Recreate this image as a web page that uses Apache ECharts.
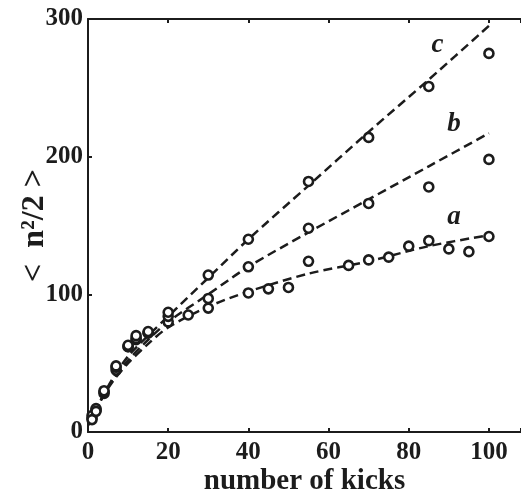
<!DOCTYPE html>
<html>
<head>
<meta charset="utf-8">
<script src="https://cdn.jsdelivr.net/npm/echarts@6/dist/echarts.min.js"></script>
<style>
  html, body { margin: 0; padding: 0; background: #fff; }
  #main { width: 521px; height: 493px; }
</style>
</head>
<body>
<div id="main"></div>
<script>
// measured points (open circles)
var kicksA = [1, 2, 4, 7, 10, 12, 15, 20, 25, 30, 40, 45, 50, 55, 65, 70, 75, 80, 85, 90, 95, 100];
var valsA = [10, 16, 28, 45, 62, 67, 72, 80, 85, 90, 101, 104, 105, 124, 121, 125, 127, 135, 139, 133, 131, 142];
var kicksBC = [1, 2, 4, 7, 10, 12, 15, 20, 30, 40, 55, 70, 85, 100];
var valsB = [12, 17, 29, 47, 62, 68, 72, 84, 97, 120, 148, 166, 178, 198];
var valsC = [9, 15, 30, 48, 63, 70, 73, 87, 114, 140, 182, 214, 251, 275];

// dashed curves
var fitX = [0, 3, 6, 10, 15, 20, 30, 40, 55, 70, 85, 100];
var fitA = [5, 22, 36, 50, 64, 76, 91, 102, 115, 124, 135, 143];
var fitB = [5, 22, 37, 52, 67, 80, 100, 120, 145, 169, 193, 217];
var fitC = [5, 22, 38, 55, 70, 84, 112, 140, 179, 218, 256, 295];

// curve letters
var letterNames = ['a', 'b', 'c'];
var letterX = [91.3, 91.3, 87.2];
var letterY = [156, 224, 281];

var xTicks = [0, 20, 40, 60, 80, 100];
var yTicks = [0, 100, 200, 300];

function pairs(xs, ys) {
	return xs.map(function (x, i) { return [x, ys[i]]; });
}

var ink = '#1c1c1c';
var serif = 'Liberation Serif';

var chart = echarts.init(document.getElementById('main'));

var fitStyle = { color: ink, width: 2.5, type: [9, 5] };

function fitSeries(ys) {
	return {
		type: 'line',
		data: pairs(fitX, ys),
		smooth: 0.3,
		showSymbol: false,
		lineStyle: fitStyle,
		silent: true,
		z: 2
	};
}

function dotSeries(xs, ys) {
	return {
		type: 'scatter',
		data: pairs(xs, ys),
		symbol: 'circle',
		symbolSize: 9,
		itemStyle: { color: '#fff', borderColor: ink, borderWidth: 2.6, opacity: 1 },
		z: 3
	};
}

var option = {
	backgroundColor: '#fff',
	animation: false,
	grid: { left: 88, right: 0, top: 19, bottom: 61, outerBoundsMode: 'none', containLabel: false },
	xAxis: [{
		type: 'value',
		min: 0,
		max: 108,
		interval: 20,
		name: 'number of kicks',
		nameLocation: 'middle',
		nameGap: 35,
		nameMoveOverlap: false,
		nameTextStyle: { fontFamily: serif, fontWeight: 'bold', fontSize: 29, color: ink },
		axisLine: { lineStyle: { color: ink, width: 2 } },
		axisTick: { inside: true, length: 4, lineStyle: { color: ink, width: 2 } },
		axisLabel: {
			fontFamily: serif, fontWeight: 'bold', fontSize: 25, color: ink, margin: 8,
			formatter: function (v) { return xTicks.indexOf(v) >= 0 ? String(v) : ''; }
		},
		splitLine: { show: false }
	}, {
		type: 'value',
		position: 'top',
		min: 0,
		max: 108,
		interval: 20,
		axisLine: { lineStyle: { color: ink, width: 2 } },
		axisTick: { inside: true, length: 4, lineStyle: { color: ink, width: 2 } },
		axisLabel: { show: false },
		splitLine: { show: false }
	}],
	yAxis: {
		type: 'value',
		min: 0,
		max: 300,
		interval: 100,
		name: '<  n\u00b2/2 >',
		nameLocation: 'middle',
		nameRotate: 90,
		nameGap: 37,
		nameMoveOverlap: false,
		nameTextStyle: { fontFamily: serif, fontWeight: 'bold', fontSize: 32, color: ink },
		axisLine: { show: true, lineStyle: { color: ink, width: 2 } },
		axisTick: { show: true, inside: true, length: 4, lineStyle: { color: ink, width: 2 } },
		axisLabel: {
			fontFamily: serif, fontWeight: 'bold', fontSize: 25, color: ink, margin: 5,
			formatter: function (v) { return yTicks.indexOf(v) >= 0 ? String(v) : ''; }
		},
		splitLine: { show: false }
	},
	series: [
		fitSeries(fitA),
		fitSeries(fitB),
		fitSeries(fitC),
		dotSeries(kicksA, valsA),
		dotSeries(kicksBC, valsB),
		dotSeries(kicksBC, valsC),
		{
			type: 'scatter',
			data: letterNames.map(function (n, i) { return { value: [letterX[i], letterY[i]], name: n }; }),
			symbolSize: 0,
			silent: true,
			itemStyle: { opacity: 1 },
			label: {
				show: true,
				position: 'inside',
				formatter: '{b}',
				fontFamily: serif,
				fontStyle: 'italic',
				fontWeight: 'bold',
				fontSize: 27,
				color: ink,
				opacity: 1
			},
			z: 4
		}
	]
};

chart.setOption(option);
</script>
</body>
</html>
